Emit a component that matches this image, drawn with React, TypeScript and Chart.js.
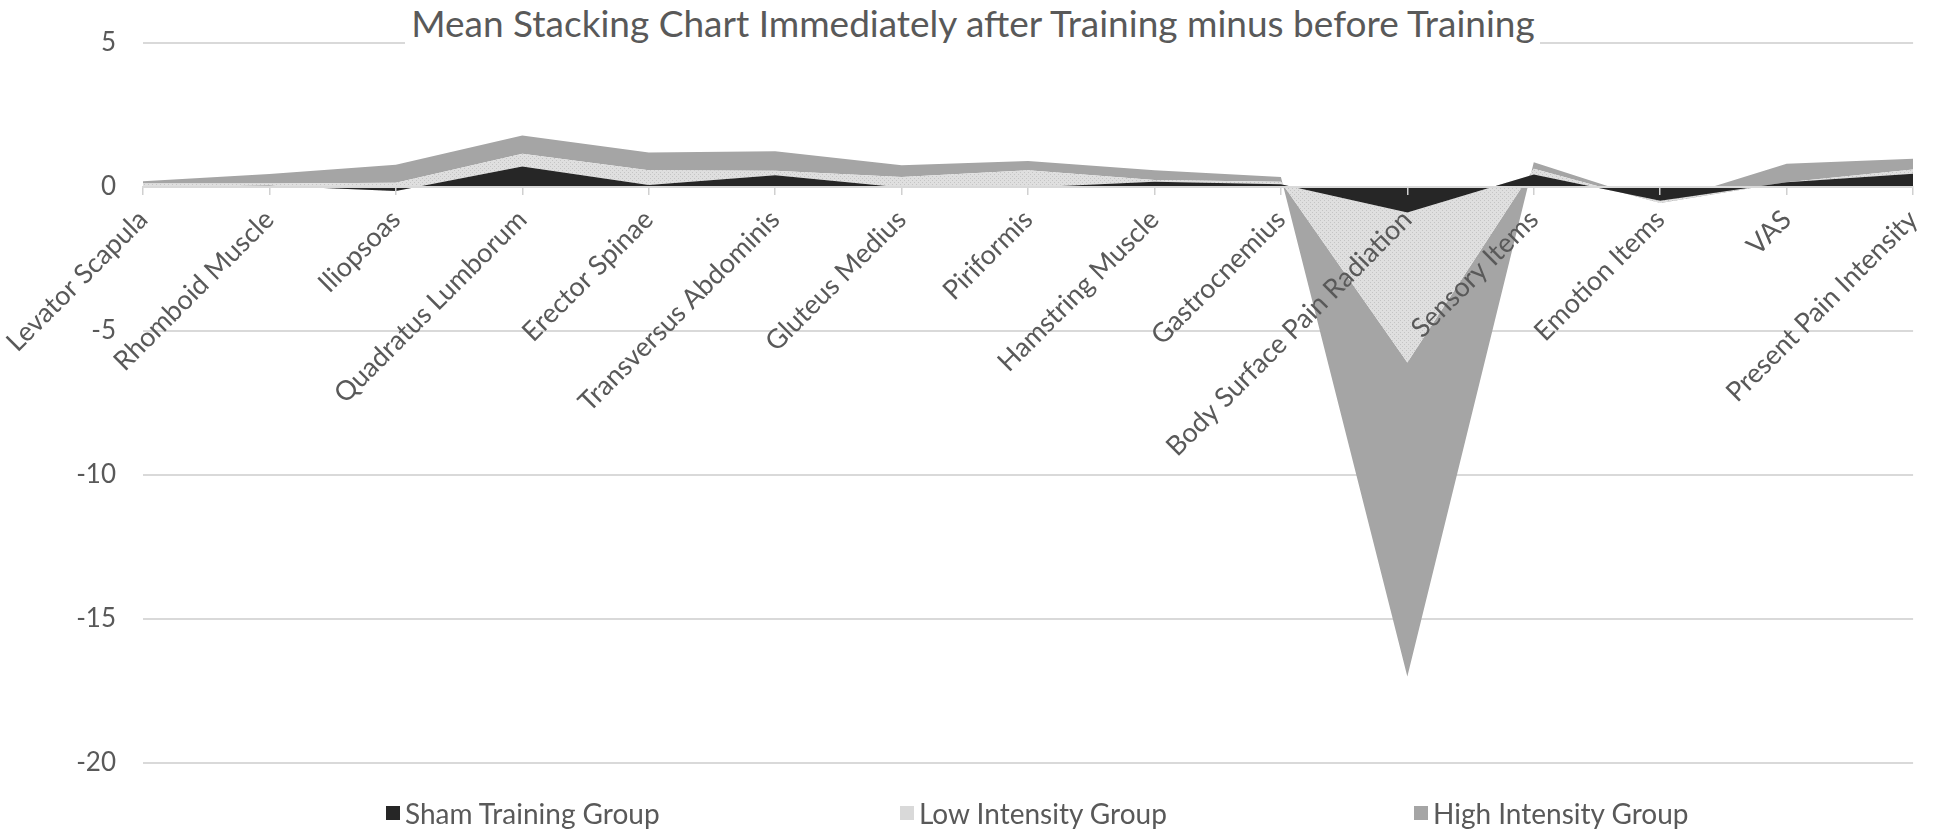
import React, { useEffect, useRef } from 'react';
import { Chart, registerables } from 'chart.js';

Chart.register(...registerables);

const titleText = 'Mean Stacking Chart Immediately after Training minus before Training';

const categories = [
  'Levator Scapula',
  'Rhomboid Muscle',
  'Iliopsoas',
  'Quadratus Lumborum',
  'Erector Spinae',
  'Transversus Abdominis',
  'Gluteus Medius',
  'Piriformis',
  'Hamstring Muscle',
  'Gastrocnemius',
  'Body Surface Pain Radiation',
  'Sensory Items',
  'Emotion Items',
  'VAS',
  'Present Pain Intensity',
];

const seriesNames = ['Sham Training Group', 'Low Intensity Group', 'High Intensity Group'];

const shamValues = [0, 0.03, -0.15, 0.7, 0.06, 0.4, -0.03, -0.03, 0.17, 0.08, -0.9, 0.42, -0.49, 0.15, 0.45];
const lowValues = [0.11, 0.08, 0.29, 0.44, 0.51, 0.15, 0.37, 0.6, 0.06, 0.09, -5.2, 0.2, -0.08, 0.0, 0.15];
const highValues = [0.08, 0.33, 0.62, 0.64, 0.62, 0.68, 0.4, 0.32, 0.34, 0.17, -10.9, 0.23, 0.0, 0.65, 0.37];

const yMin = -20;
const yMax = 5;
const yStep = 5;

const FONT = 'Lato, "Open Sans", sans-serif';
const TEXT_COLOR = '#595959';
const seriesColors = ['#262626', '#d9d9d9', '#a5a5a5'];

export default function App() {
  const ref = useRef<HTMLCanvasElement>(null);

  useEffect(() => {
    const canvas = ref.current!;
    const pc = document.createElement('canvas');
    pc.width = 4;
    pc.height = 4;
    const pctx = pc.getContext('2d')!;
    pctx.fillStyle = '#dfdfdf';
    pctx.fillRect(0, 0, 4, 4);
    pctx.fillStyle = '#c4c4c4';
    pctx.fillRect(0, 0, 1, 1);
    pctx.fillRect(2, 2, 1, 1);
    const pattern = canvas.getContext('2d')!.createPattern(pc, 'repeat');

    const base = {
      borderColor: 'rgba(0,0,0,0)',
      borderWidth: 0,
      pointRadius: 0,
      pointHoverRadius: 0,
      tension: 0,
    };

    const chart = new Chart(canvas, {
      type: 'line',
      data: {
        labels: categories,
        datasets: [
          { ...base, label: seriesNames[0], data: shamValues, backgroundColor: seriesColors[0], fill: 'origin' },
          { ...base, label: seriesNames[1], data: lowValues, backgroundColor: pattern || seriesColors[1], fill: '-1' },
          { ...base, label: seriesNames[2], data: highValues, backgroundColor: seriesColors[2], fill: '-1' },
        ],
      },
      options: {
        responsive: false,
        animation: false,
        layout: { padding: { top: 27, right: 12, bottom: 67, left: 0 } },
        plugins: {
          legend: { display: false },
          title: { display: false },
          tooltip: { enabled: false },
        },
        scales: {
          x: {
            position: { y: 0 } as any,
            offset: false,
            grid: { drawOnChartArea: false, drawTicks: true, tickLength: 7, color: '#d0d0d0', lineWidth: 1.5, z: 1 },
            border: { display: true, color: '#d9d9d9', width: 2, z: 1 },
            ticks: {
              autoSkip: false,
              minRotation: 45,
              maxRotation: 45,
              color: TEXT_COLOR,
              font: { family: FONT, size: 27 },
              padding: 10,
              z: 1,
            },
          },
          y: {
            stacked: 'single' as any,
            min: yMin,
            max: yMax,
            ticks: { stepSize: yStep, color: TEXT_COLOR, font: { family: FONT, size: 26 }, padding: 27 },
            grid: { color: '#d9d9d9', lineWidth: 2, drawTicks: false },
            border: { display: false },
            afterFit: (s: any) => {
              s.width = 143;
            },
          },
        },
      },
    });
    return () => chart.destroy();
  }, []);

  return (
    <div style={{ position: 'absolute', left: 0, top: 0, width: 1946, height: 830, background: '#fff' }}>
      <canvas ref={ref} width={1946} height={830} style={{ display: 'block' }} />
      <div
        style={{
          position: 'absolute',
          top: 0,
          left: '50%',
          transform: 'translateX(-50%)',
          height: 46,
          lineHeight: '46px',
          padding: '0 6px',
          background: '#fff',
          color: TEXT_COLOR,
          fontFamily: FONT,
          fontSize: 37,
          whiteSpace: 'nowrap',
        }}
      >
        {titleText}
      </div>
      <div
        style={{
          position: 'absolute',
          top: 797,
          left: 386,
          display: 'flex',
          fontFamily: FONT,
          fontSize: 28,
          color: TEXT_COLOR,
        }}
      >
        {seriesNames.map((name, i) => (
          <div key={name} style={{ width: 514, display: 'flex', alignItems: 'center', height: 32 }}>
            <span
              style={{
                display: 'inline-block',
                width: 14,
                height: 14,
                background: seriesColors[i],
                marginRight: 5,
              }}
            />
            <span>{name}</span>
          </div>
        ))}
      </div>
    </div>
  );
}
